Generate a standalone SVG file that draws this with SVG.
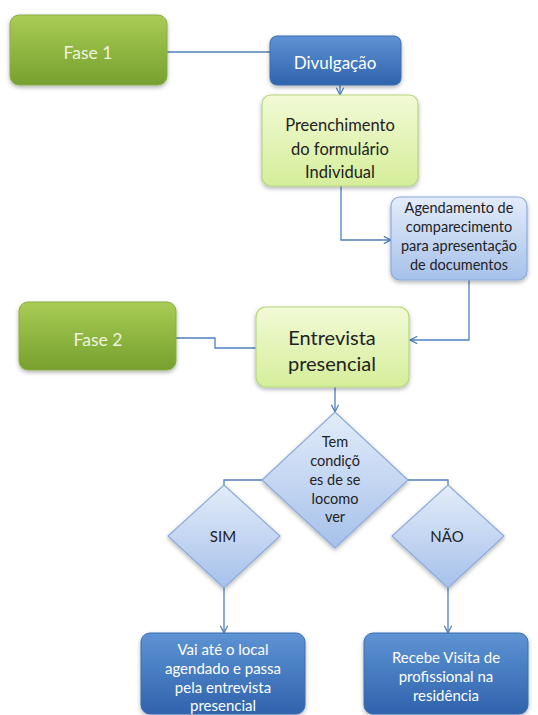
<svg xmlns="http://www.w3.org/2000/svg" width="538" height="715" viewBox="0 0 538 715">
<defs>
<linearGradient id="gGreen" x1="0" y1="0" x2="0" y2="1"><stop offset="0" stop-color="#a9cc55"/><stop offset="1" stop-color="#76a02e"/></linearGradient>
<linearGradient id="gDark" x1="0" y1="0" x2="0" y2="1"><stop offset="0" stop-color="#5e93d4"/><stop offset="1" stop-color="#2f63ad"/></linearGradient>
<linearGradient id="gLightG" x1="0" y1="0" x2="0" y2="1"><stop offset="0" stop-color="#f2fad6"/><stop offset="1" stop-color="#d5ee9a"/></linearGradient>
<linearGradient id="gLightB" x1="0" y1="0" x2="0" y2="1"><stop offset="0" stop-color="#e3ecfa"/><stop offset="1" stop-color="#a6c1ea"/></linearGradient>
<filter id="sh" x="-10%" y="-10%" width="130%" height="140%"><feDropShadow dx="0" dy="2" stdDeviation="2" flood-color="#000" flood-opacity="0.3"/></filter>
<marker id="arr" viewBox="0 0 10 10" refX="9" refY="5" markerWidth="9" markerHeight="9" orient="auto" markerUnits="userSpaceOnUse"><path d="M1,1 L9,5 L1,9" fill="none" stroke="#4f7fbd" stroke-width="1.4"/></marker>
</defs>
<style>
.t{font-family:Lato,"Liberation Sans",sans-serif;text-anchor:middle}
.green{fill:url(#gGreen);stroke:#88ad45;stroke-width:1}
.dark{fill:url(#gDark);stroke:#3a6cb0;stroke-width:1}
.lg{fill:url(#gLightG);stroke:#b6d67e;stroke-width:1.2}
.lb{fill:url(#gLightB);stroke:#8aabda;stroke-width:1.2}
.w{fill:#ffffff}
.fw{fill:#eef4df}
.k{fill:#222222}
.c{fill:none;stroke:#4f7fbd;stroke-width:1.3}
</style>
<rect width="538" height="715" fill="#ffffff"/>
<g id="connectors">
<polyline class="c" points="167,52 270,52"/>
<polyline class="c" points="340,85 340,95" marker-end="url(#arr)"/>
<polyline class="c" points="341,186 341,240 391,240" marker-end="url(#arr)"/>
<polyline class="c" points="469,280 469,340 410,340" marker-end="url(#arr)"/>
<polyline class="c" points="176,338 215,338 215,348 256,348"/>
<polyline class="c" points="335,387 335,412" marker-end="url(#arr)"/>
<polyline class="c" points="262,480 224,480 224,485"/>
<polyline class="c" points="408,480 448,480 448,485"/>
<polyline class="c" points="224,588 224,633" marker-end="url(#arr)"/>
<polyline class="c" points="448,588 448,633" marker-end="url(#arr)"/>
</g>
<g id="fase1">
<rect class="green" x="10" y="15" width="157" height="70" rx="9" filter="url(#sh)"/>
<text class="t fw" x="88" y="59" font-size="17.5">Fase 1</text>
</g>
<g id="divulgacao">
<rect class="dark" x="270" y="36" width="131" height="49" rx="7" filter="url(#sh)"/>
<text class="t w" x="335" y="69" font-size="17">Divulgação</text>
</g>
<g id="preenchimento">
<rect class="lg" x="262" y="95" width="156" height="91" rx="9" filter="url(#sh)"/>
<text class="t k" x="340" y="131" font-size="16.5">Preenchimento</text>
<text class="t k" x="340" y="155" font-size="16.5">do formulário</text>
<text class="t k" x="340" y="178" font-size="16.5">Individual</text>
</g>
<g id="agendamento">
<rect class="lb" x="391" y="197" width="136" height="83" rx="9" filter="url(#sh)"/>
<text class="t k" x="459" y="213" font-size="14.5">Agendamento de</text>
<text class="t k" x="459" y="232" font-size="14.5">comparecimento</text>
<text class="t k" x="459" y="251" font-size="14.5">para apresentação</text>
<text class="t k" x="459" y="270" font-size="14.5">de documentos</text>
</g>
<g id="fase2">
<rect class="green" x="19" y="302" width="157" height="68" rx="9" filter="url(#sh)"/>
<text class="t fw" x="98" y="346" font-size="17.5">Fase 2</text>
</g>
<g id="entrevista">
<rect class="lg" x="256" y="307" width="153" height="80" rx="10" filter="url(#sh)"/>
<text class="t k" x="332" y="345" font-size="20">Entrevista</text>
<text class="t k" x="332" y="371" font-size="20">presencial</text>
</g>
<g id="decisao">
<polygon class="lb" points="335,412 408,480 335,548 262,480" filter="url(#sh)"/>
<text class="t k" x="335" y="447" font-size="14.5">Tem</text>
<text class="t k" x="335" y="466" font-size="14.5">condiçõ</text>
<text class="t k" x="335" y="485" font-size="14.5">es de se</text>
<text class="t k" x="335" y="504" font-size="14.5">locomo</text>
<text class="t k" x="335" y="522" font-size="14.5">ver</text>
</g>
<g id="sim">
<polygon class="lb" points="224,485 280,536 224,588 168,536" filter="url(#sh)"/>
<text class="t k" x="223" y="542" font-size="15">SIM</text>
</g>
<g id="nao">
<polygon class="lb" points="448,485 504,536 448,588 392,536" filter="url(#sh)"/>
<text class="t k" x="447" y="542" font-size="15">NÃO</text>
</g>
<g id="vai">
<rect class="dark" x="141" y="633" width="164" height="81" rx="9" filter="url(#sh)"/>
<text class="t w" x="223" y="655" font-size="15">Vai até o local</text>
<text class="t w" x="223" y="674" font-size="15">agendado e passa</text>
<text class="t w" x="223" y="693" font-size="15">pela entrevista</text>
<text class="t w" x="223" y="711" font-size="15">presencial</text>
</g>
<g id="recebe">
<rect class="dark" x="364" y="633" width="164" height="81" rx="9" filter="url(#sh)"/>
<text class="t w" x="446" y="663" font-size="15">Recebe Visita de</text>
<text class="t w" x="446" y="682" font-size="15">profissional na</text>
<text class="t w" x="446" y="701" font-size="15">residência</text>
</g>
</svg>
